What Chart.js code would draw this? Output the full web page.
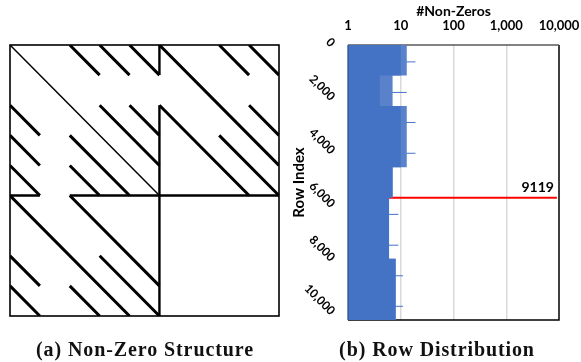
<!DOCTYPE html>
<html><head><meta charset="utf-8">
<script src="https://cdn.jsdelivr.net/npm/chart.js@4.4.0/dist/chart.umd.min.js"></script>
<style>
html,body{margin:0;padding:0;background:#fff;}
#wrap{position:relative;width:581px;height:362px;overflow:hidden;background:#fff;}
#ca{position:absolute;left:0;top:0;}
#cb{position:absolute;left:290px;top:0;}
.cap{position:absolute;top:339px;font-family:"Liberation Serif",serif;font-weight:bold;font-size:20px;line-height:20px;letter-spacing:0.9px;white-space:nowrap;transform:translateX(-50%);color:#111;}
</style></head><body>
<div id="wrap">
<canvas id="ca" width="290" height="362"></canvas>
<canvas id="cb" width="291" height="362"></canvas>
<div class="cap" style="left:145px">(a) Non-Zero Structure</div>
<div class="cap" style="left:437px">(b) Row Distribution</div>
</div>
<script>
// ---------- data ----------
const N_ROWS = 10261;
// (a) sparsity structure: diagonal bands (start column, start row, length in rows)
const diagStartCol = [2280, 3420, 4560, 0, 0, 0, 3420, 4560, 2280, 2280, 5700, 7980, 9120, 5700, 9120, 7980, 0, 0, 0, 2280, 2280, 3420];
const diagStartRow = [0, 0, 0, 2280, 3420, 4560, 2280, 2280, 3420, 4560, 0, 0, 0, 2280, 2280, 3420, 5700, 7980, 9120, 5700, 9120, 7980];
const diagLength   = [1140, 1140, 1140, 1140, 1140, 1140, 2280, 1140, 2280, 1140, 4560, 1140, 1140, 3420, 1140, 2280, 4560, 1140, 1140, 3420, 1140, 2280];
const mainDiagEnd = 5700;
const denseIndex = 5700;
const denseGapFrom = 1140;
const denseGapTo = 2280;
// (b) row distribution
const segStartRow = [0, 1140, 2280, 4560, 5700, 7980];
const segMinNnz   = [10, 4, 10, 7, 6, 8];
const segMaxNnz   = [13, 7, 13, 7, 6, 8];
const spikeRow = [630, 1770, 2890, 4040, 6320, 7470, 8610, 9750];
const spikeNnz = [19, 13, 19, 19, 9, 9, 11, 11];
const denseRow = 5700;
const denseRowNnz = 9119;
const xTickValues = [1, 10, 100, 1000, 10000];
const yTickValues = [0, 2000, 4000, 6000, 8000, 10000];

const GAP = {x: NaN, y: NaN};
const FONT = 'Lato';
const CLEAR = 'rgba(0,0,0,0)';

// ---------- chart (a) ----------
const diagPts = [];
diagStartCol.forEach((c, i) => {
  diagPts.push({x: c, y: diagStartRow[i]});
  diagPts.push({x: c + diagLength[i], y: diagStartRow[i] + diagLength[i]});
  diagPts.push(GAP);
});
const densePts = [
  {x: 0, y: denseIndex}, {x: denseGapFrom, y: denseIndex}, GAP,
  {x: denseGapTo, y: denseIndex}, {x: N_ROWS, y: denseIndex}, GAP,
  {x: denseIndex, y: 0}, {x: denseIndex, y: denseGapFrom}, GAP,
  {x: denseIndex, y: denseGapTo}, {x: denseIndex, y: N_ROWS}
];
const mainPts = [{x: 0, y: 0}, {x: mainDiagEnd, y: mainDiagEnd}];

const frameA = {
  id: 'frameA',
  afterDatasetsDraw(chart) {
    const {ctx, chartArea: a} = chart;
    ctx.save();
    ctx.strokeStyle = '#000';
    ctx.lineWidth = 1.6;
    ctx.strokeRect(a.left, a.top, a.right - a.left, a.bottom - a.top);
    ctx.restore();
  }
};

new Chart(document.getElementById('ca'), {
  type: 'scatter',
  data: {datasets: [
    {data: diagPts, showLine: true, borderColor: '#000', borderWidth: 3, borderCapStyle: 'butt', pointRadius: 0, spanGaps: false},
    {data: densePts, showLine: true, borderColor: '#000', borderWidth: 2.4, borderCapStyle: 'butt', pointRadius: 0, spanGaps: false},
    {data: mainPts, showLine: true, borderColor: '#000', borderWidth: 1.5, borderCapStyle: 'butt', pointRadius: 0}
  ]},
  options: {
    responsive: false, animation: false, events: [],
    layout: {padding: {left: 10, right: 11, top: 45, bottom: 46}},
    scales: {
      x: {type: 'linear', min: 0, max: N_ROWS, display: false},
      y: {type: 'linear', min: 0, max: N_ROWS, reverse: true, display: false}
    },
    plugins: {legend: {display: false}, tooltip: {enabled: false}}
  },
  plugins: [frameA]
});

// ---------- chart (b) ----------
function stepPts(vals) {
  const pts = segStartRow.map((r, i) => ({x: vals[i], y: r}));
  pts.push({x: vals[vals.length - 1], y: N_ROWS});
  return pts;
}
const spikePts = [];
spikeRow.forEach((r, i) => {
  spikePts.push({x: 1, y: r});
  spikePts.push({x: spikeNnz[i], y: r});
  spikePts.push(GAP);
});
const redPts = [{x: 1, y: denseRow}, {x: denseRowNnz, y: denseRow}];

const frameB = {
  id: 'frameB',
  beforeDatasetsDraw(chart) {
    const {ctx, chartArea: a} = chart;
    ctx.save();
    ctx.lineWidth = 1.5;
    ctx.strokeStyle = '#000';
    ctx.beginPath();
    ctx.moveTo(a.right, a.top); ctx.lineTo(a.right, a.bottom); ctx.lineTo(a.left, a.bottom);
    ctx.stroke();
    ctx.strokeStyle = '#595959';
    ctx.lineWidth = 1.3;
    ctx.beginPath(); ctx.moveTo(a.left, a.top); ctx.lineTo(a.right, a.top); ctx.stroke();
    ctx.restore();
  },
  afterDatasetsDraw(chart) {
    const {ctx, chartArea: a, scales: {x, y}} = chart;
    ctx.save();
    ctx.strokeStyle = '#2f4f8a';
    ctx.lineWidth = 1.3;
    ctx.beginPath(); ctx.moveTo(a.left, a.top); ctx.lineTo(a.left, a.bottom); ctx.stroke();
    ctx.font = 'bold 14px ' + FONT;
    ctx.fillStyle = '#000';
    ctx.textAlign = 'right';
    ctx.textBaseline = 'alphabetic';
    ctx.fillText(String(denseRowNnz), x.getPixelForValue(denseRowNnz) - 3, y.getPixelForValue(denseRow) - 5.5);
    ctx.restore();
  }
};

new Chart(document.getElementById('cb'), {
  type: 'line',
  data: {datasets: [
    {data: stepPts(segMinNnz), stepped: 'after', borderWidth: 0, borderColor: CLEAR, backgroundColor: '#4472c4', fill: {value: 1}, pointRadius: 0},
    {data: stepPts(segMaxNnz), stepped: 'after', borderWidth: 0, borderColor: CLEAR, backgroundColor: '#5a82cb', fill: {value: 1}, pointRadius: 0},
    {data: spikePts, borderWidth: 1, borderColor: '#4472c4', fill: false, pointRadius: 0, spanGaps: false},
    {data: redPts, borderWidth: 2, borderColor: '#ff0000', fill: false, pointRadius: 0}
  ]},
  options: {
    indexAxis: 'y',
    responsive: false, animation: false, events: [],
    layout: {padding: {left: 0, right: 22, top: 0, bottom: 42}},
    scales: {
      x: {
        type: 'logarithmic', position: 'top', min: 1, max: 10000,
        afterBuildTicks(s) { s.ticks = xTickValues.map(v => ({value: v})); },
        afterFit(s) { s.height = 45; },
        ticks: {color: '#000', font: {family: FONT, weight: 'bold', size: 13}, padding: 0, maxRotation: 0, autoSkip: false,
          callback: v => Number(v).toLocaleString('en-US')},
        grid: {color: c => (c.tick && (c.tick.value === 1 || c.tick.value === 10000)) ? CLEAR : '#d9d9d9', lineWidth: 1.5,
          drawTicks: true, tickLength: 11, tickColor: CLEAR},
        border: {display: false},
        title: {display: true, text: '#Non-Zeros', color: '#000', font: {family: FONT, weight: 'bold', size: 14}, padding: {top: 3, bottom: 0}}
      },
      y: {
        type: 'linear', min: 0, max: N_ROWS, reverse: true,
        afterBuildTicks(s) { s.ticks = yTickValues.map(v => ({value: v})); },
        afterFit(s) { s.width = 58; },
        ticks: {color: '#000', font: {family: FONT, weight: 'bold', size: 12}, padding: 0, minRotation: -45, maxRotation: -45, autoSkip: false,
          callback: v => Number(v).toLocaleString('en-US')},
        grid: {display: false, drawTicks: true, tickLength: 15, tickColor: CLEAR},
        border: {display: false},
        title: {display: true, text: 'Row Index', color: '#000', font: {family: FONT, weight: 'bold', size: 15}, padding: {top: 0, bottom: 0}}
      }
    },
    plugins: {legend: {display: false}, tooltip: {enabled: false}}
  },
  plugins: [frameB]
});
</script>
</body></html>
